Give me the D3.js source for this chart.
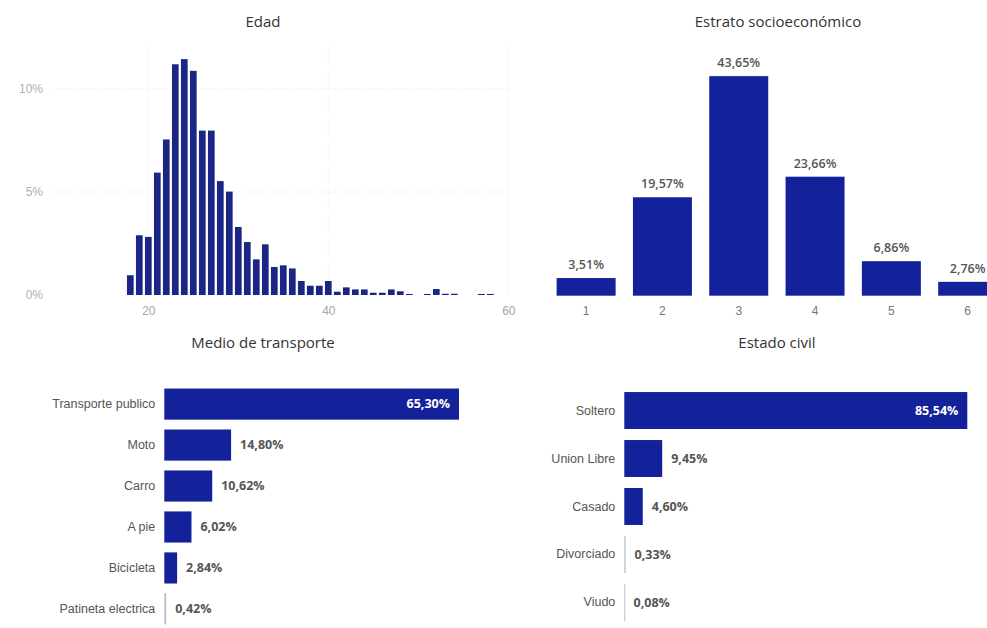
<!DOCTYPE html>
<html>
<head>
<meta charset="utf-8">
<script src="https://cdn.jsdelivr.net/npm/d3@7"></script>
<style>
  html, body { margin: 0; padding: 0; background: #fff; overflow: hidden; }
  svg { display: block; font-family: "Open Sans", "Noto Sans", sans-serif; }
  .title { font-size: 15px; fill: #333; text-anchor: middle; }
  .tick-lbl { font-size: 12px; fill: #a6a6a6; }
  .cat-lbl { font-size: 12.5px; fill: #555; }
  .val-lbl { font-size: 12.5px; font-weight: 700; fill: #555; }
</style>
</head>
<body>
<svg id="chart" width="987" height="628"></svg>
<script>
// Edad (histograma, % por edad)
const ageBins = [18, 19, 20, 21, 22, 23, 24, 25, 26, 27, 28, 29, 30, 31, 32, 33, 34, 35, 36, 37,
                 38, 39, 40, 41, 42, 43, 44, 45, 46, 47, 48, 49, 51, 52, 53, 54, 57, 58];
const agePct = [0.96, 2.9, 2.82, 5.94, 7.55, 11.2, 11.45, 10.88, 7.98, 7.98, 5.53, 5.02, 3.3, 2.57,
                1.73, 2.46, 1.36, 1.44, 1.29, 0.68, 0.45, 0.45, 0.68, 0.16, 0.37, 0.27, 0.27, 0.11,
                0.11, 0.27, 0.18, 0.05, 0.05, 0.29, 0.06, 0.06, 0.05, 0.05];
const ageTicks = [20, 40, 60];
const agePctTicks = [0, 5, 10];

// Estrato socioeconómico
const strata = ["1", "2", "3", "4", "5", "6"];
const strataPct = [3.51, 19.57, 43.65, 23.66, 6.86, 2.76];

// Medio de transporte
const transport = ["Transporte publico", "Moto", "Carro", "A pie", "Bicicleta", "Patineta electrica"];
const transportPct = [65.30, 14.80, 10.62, 6.02, 2.84, 0.42];

// Estado civil
const civil = ["Soltero", "Union Libre", "Casado", "Divorciado", "Viudo"];
const civilPct = [85.54, 9.45, 4.60, 0.33, 0.08];

const barColor = "#13229b";
const histColor = "#1b2586";

const locale = d3.formatLocale({ decimal: ",", thousands: ".", grouping: [3], currency: ["", ""] });
const fmt = v => locale.format(".2f")(v) + "%";

const svg = d3.select("#chart");

// ---------- Edad ----------
{
  const g = svg.append("g");
  const x = d3.scaleLinear().domain([20, 60]).range([148.3, 508.3]);
  const y = d3.scaleLinear().domain([0, 10]).range([295, 89]);

  g.append("text").attr("class", "title").attr("x", 263).attr("y", 27).text("Edad");

  // grid
  g.selectAll(".hgrid").data(agePctTicks.filter(d => d > 0)).join("line")
    .attr("x1", 53).attr("x2", 510)
    .attr("y1", d => y(d)).attr("y2", d => y(d))
    .attr("stroke", "#e2e2e2").attr("stroke-dasharray", "1,2");
  g.selectAll(".vgrid").data(ageTicks).join("line")
    .attr("x1", d => x(d)).attr("x2", d => x(d))
    .attr("y1", 45).attr("y2", 295)
    .attr("stroke", "#eeeeee").attr("stroke-dasharray", "1,2");

  const bw = 6.7;
  g.selectAll(".hbar").data(ageBins).join("rect")
    .attr("x", d => x(d) - bw / 2)
    .attr("width", bw)
    .attr("y", (d, i) => y(agePct[i]))
    .attr("height", (d, i) => y(0) - y(agePct[i]))
    .attr("fill", histColor);

  const xAxis = d3.axisBottom(x).tickValues(ageTicks).tickSize(0).tickPadding(11);
  const ax = g.append("g").attr("transform", `translate(0,${y(0)})`).call(xAxis);
  ax.select(".domain").remove();
  ax.selectAll("text").attr("class", "tick-lbl").attr("fill", null);

  const yAxis = d3.axisLeft(y).tickValues(agePctTicks).tickFormat(d => d + "%").tickSize(0).tickPadding(0);
  const ay = g.append("g").attr("transform", "translate(43,0)").call(yAxis);
  ay.select(".domain").remove();
  ay.selectAll("text").attr("class", "tick-lbl").attr("fill", null).style("fill", "#b0b0b0");
}

// ---------- Estrato socioeconómico ----------
{
  const g = svg.append("g");
  const x = d3.scaleBand().domain(strata).range([548, 548 + 6 * 76.3]).paddingInner(0.227).paddingOuter(0.113);
  const y = d3.scaleLinear().domain([0, 45]).range([295.7, 295.7 - 45 * 5.03]);

  g.append("text").attr("class", "title").attr("x", 778).attr("y", 27).text("Estrato socioeconómico");

  g.selectAll(".sbar").data(strata).join("rect")
    .attr("x", d => x(d))
    .attr("width", x.bandwidth())
    .attr("y", (d, i) => y(strataPct[i]))
    .attr("height", (d, i) => y(0) - y(strataPct[i]))
    .attr("fill", barColor);

  g.selectAll(".slbl").data(strata).join("text")
    .attr("class", "val-lbl")
    .attr("x", d => x(d) + x.bandwidth() / 2)
    .attr("y", (d, i) => y(strataPct[i]) - 9)
    .attr("text-anchor", "middle")
    .style("font-weight", 600)
    .text((d, i) => fmt(strataPct[i]));

  const xAxis = d3.axisBottom(x).tickSize(0).tickPadding(11);
  const ax = g.append("g").attr("transform", `translate(0,${y(0)})`).call(xAxis);
  ax.select(".domain").remove();
  ax.selectAll("text").attr("class", "tick-lbl").attr("fill", null).style("fill", "#777");
}

// ---------- horizontal bar charts ----------
function hbars(opts) {
  const g = svg.append("g");
  const x = d3.scaleLinear().domain([0, opts.max]).range([opts.x0, opts.x1]);
  const y = d3.scaleBand().domain(opts.cats).range(opts.yr).padding(opts.pad);

  g.append("text").attr("class", "title").attr("x", opts.tx).attr("y", 348).text(opts.title);

  g.selectAll("rect").data(opts.cats).join("rect")
    .attr("x", x(0))
    .attr("y", d => y(d))
    .attr("height", y.bandwidth())
    .attr("width", (d, i) => Math.max(1, x(opts.vals[i]) - x(0)))
    .attr("fill", (d, i) => opts.vals[i] < 1 ? "#b9bccf" : barColor);

  const yAxis = d3.axisLeft(y).tickSize(0).tickPadding(9);
  const ay = g.append("g").attr("transform", `translate(${x(0)},0)`).call(yAxis);
  ay.select(".domain").remove();
  ay.selectAll("text").attr("class", "cat-lbl").attr("fill", null);

  g.selectAll(".vlbl").data(opts.cats).join("text")
    .attr("class", "val-lbl")
    .attr("y", d => y(d) + y.bandwidth() / 2)
    .attr("dy", "0.35em")
    .each(function (d, i) {
      const v = opts.vals[i];
      const inside = i === 0;
      d3.select(this)
        .attr("x", inside ? x(v) - 9 : x(v) + 9)
        .attr("text-anchor", inside ? "end" : "start")
        .style("fill", inside ? "#fff" : "#555")
        .text(fmt(v));
    });
}

hbars({
  title: "Medio de transporte", tx: 263,
  cats: transport, vals: transportPct, max: 65.30,
  x0: 164.3, x1: 459, yr: [378.7, 634.3], pad: 0.24
});

hbars({
  title: "Estado civil", tx: 777,
  cats: civil, vals: civilPct, max: 85.54,
  x0: 624.3, x1: 967.3, yr: [381, 632], pad: 0.23
});
</script>
</body>
</html>
